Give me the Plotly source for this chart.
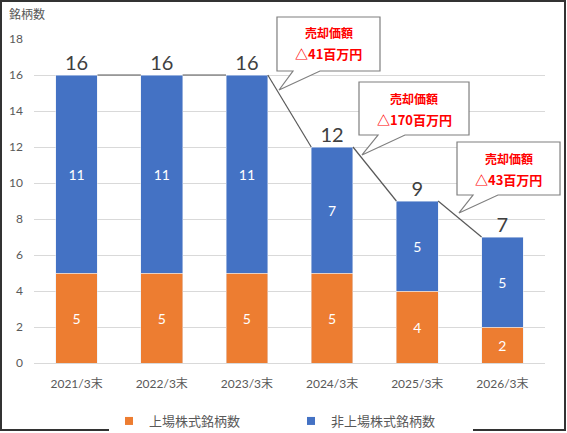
import plotly.graph_objects as go

# data
categories = ["2021/3末", "2022/3末", "2023/3末", "2024/3末", "2025/3末", "2026/3末"]
listed = [5, 5, 5, 5, 4, 2]
unlisted = [11, 11, 11, 7, 5, 5]
callout_amounts = ["△41百万円", "△170百万円", "△43百万円"]

totals = [a + b for a, b in zip(listed, unlisted)]
xs = list(range(len(categories)))

ORANGE = "#ED7D31"
BLUE = "#4472C4"
GRAY = "#595959"
FONT = "Lato, Noto Sans CJK JP"
BAR_W = 0.49

# plot area in pixels (567x433 page)
L, R, T, B = 34, 22, 39, 70
PW = 567 - L - R
PH = 433 - T - B


def px(x):
    return (x - L) / PW


def py(y):
    return (433 - B - y) / PH


fig = go.Figure()
fig.add_trace(go.Bar(x=xs, y=listed, name="上場株式銘柄数", marker_color=ORANGE,
                     width=BAR_W, text=listed, textposition="inside",
                     insidetextanchor="middle", showlegend=False,
                     textfont=dict(color="white", size=14, family=FONT)))
fig.add_trace(go.Bar(x=xs, y=unlisted, name="非上場株式銘柄数", marker_color=BLUE,
                     width=BAR_W, text=unlisted, textposition="inside",
                     insidetextanchor="middle", showlegend=False,
                     textfont=dict(color="white", size=14, family=FONT)))

# legend entries with small square swatches
for name, col in [("上場株式銘柄数", ORANGE), ("非上場株式銘柄数", BLUE)]:
    fig.add_trace(go.Scatter(x=[None], y=[None], mode="markers", name=name,
                             marker=dict(symbol="square", size=8, color=col)))

# series lines between bar tops
lx, ly = [], []
for i in range(len(xs) - 1):
    lx += [xs[i] + BAR_W / 2, xs[i + 1] - BAR_W / 2, None]
    ly += [totals[i], totals[i + 1], None]
fig.add_trace(go.Scatter(x=lx, y=ly, mode="lines", line=dict(color=GRAY, width=1.2),
                         showlegend=False, hoverinfo="skip"))

# totals
fig.add_trace(go.Scatter(x=xs, y=totals, mode="text", text=totals,
                         textposition="top center",
                         textfont=dict(size=20, color="#404040", family=FONT),
                         showlegend=False, hoverinfo="skip", cliponaxis=False))

shapes = []
annotations = []

# callouts (box left, right, top, bottom, tail tip, tail base) in pixels
callouts = [
    (277, 380, 17, 71, (279, 90), (293, 320)),
    (359, 469, 82, 135, (362, 155), (378, 405)),
    (457, 560, 142, 195, (459, 213), (473, 498)),
]
for (x0, x1, y0, y1, tip, base), amt in zip(callouts, callout_amounts):
    pts = [(x0, y0), (x1, y0), (x1, y1), (base[1], y1), tip, (base[0], y1), (x0, y1)]
    path = "M " + " L ".join(f"{px(a):.4f},{py(b):.4f}" for a, b in pts) + " Z"
    shapes.append(dict(type="path", xref="paper", yref="paper", path=path,
                       fillcolor="white", line=dict(color="#7F7F7F", width=1.2)))
    cx = (x0 + x1) / 2
    annotations.append(dict(x=px(cx), y=py(y0 + 16), xref="paper", yref="paper",
                            xanchor="center", yanchor="middle",
                            text="<b>売却価額</b>", showarrow=False,
                            font=dict(size=12, color="#FF0000", family="Noto Sans CJK JP")))
    annotations.append(dict(x=px(cx), y=py(y0 + 37), xref="paper", yref="paper",
                            xanchor="center", yanchor="middle",
                            text=f"<b>{amt}</b>", showarrow=False,
                            font=dict(size=13, color="#FF0000", family="Noto Sans CJK JP")))

annotations.append(dict(x=px(7), y=py(13), xref="paper", yref="paper",
                        xanchor="left", yanchor="middle", text="銘柄数", showarrow=False,
                        font=dict(size=12, color=GRAY, family="Noto Sans CJK JP")))

# outer border
shapes.append(dict(type="rect", xref="paper", yref="paper", layer="above",
                   x0=px(1), x1=px(565), y0=py(1), y1=py(430),
                   line=dict(color="#333333", width=2)))

fig.update_layout(
    width=567, height=433,
    margin=dict(l=L, r=R, t=T, b=B, autoexpand=False),
    barmode="stack",
    plot_bgcolor="white", paper_bgcolor="white",
    font=dict(family=FONT, color=GRAY, size=12),
    xaxis=dict(tickmode="array", tickvals=xs, ticktext=categories,
               range=[-0.5, len(xs) - 0.5], showgrid=False,
               showline=True, linecolor="#D9D9D9", linewidth=1,
               tickfont=dict(size=12, color=GRAY, family=FONT), ticks="",
               ticklabelstandoff=10),
    yaxis=dict(range=[0, 18], dtick=2, showgrid=True, gridcolor="#D9D9D9",
               zeroline=False, tickfont=dict(size=12, color=GRAY, family=FONT),
               ticks="", ticklen=0, ticklabelstandoff=10),
    legend=dict(orientation="h", x=px(130 - 21), xanchor="left", y=py(421),
                yanchor="middle", font=dict(size=13, color=GRAY, family="Noto Sans CJK JP"),
                entrywidth=137, traceorder="normal"),
    shapes=shapes,
    annotations=annotations,
    uniformtext=dict(minsize=10, mode="show"),
)

fig.write_html("out.html", config={"displayModeBar": False},
               post_script="document.body.style.margin='0';")
